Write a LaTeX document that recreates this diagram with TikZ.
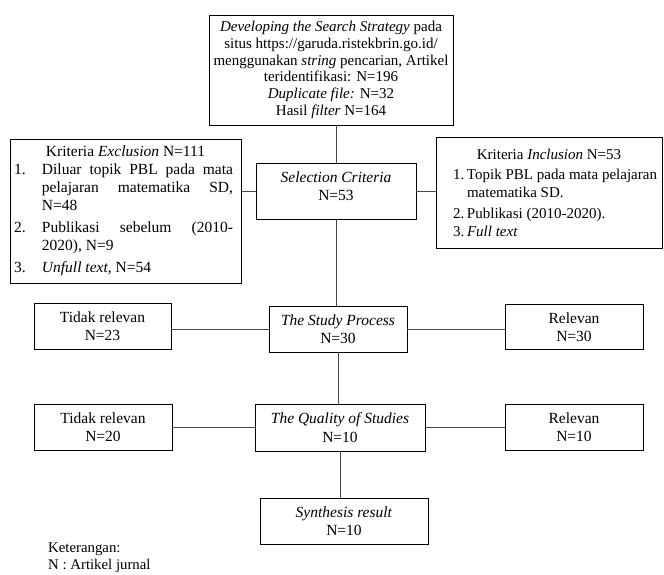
\documentclass[tikz,border=0pt]{standalone}
\usepackage{fontspec}
\setmainfont{Liberation Serif}
\begin{document}
\begin{tikzpicture}[x=1pt,y=-1pt,
  box/.style={draw=black, line width=0.9pt, inner sep=0pt, align=center,
    font=\fontsize{15.5pt}{18.5pt}\selectfont},
  listbox/.style={draw=black, line width=0.9pt, inner sep=0pt},
  txt/.style={inner sep=0pt, align=center, font=\fontsize{15.5pt}{18.5pt}\selectfont},
  conn/.style={draw=black!72, line width=1pt}]
\useasboundingbox (0,0) rectangle (664,574);

% top box
\node[box, minimum width=244pt, minimum height=110pt, inner xsep=2pt,
      font=\fontsize{15pt}{16.7pt}\selectfont] (top) at (331,70)
  {\textit{Developing the Search Strategy} pada\\
   situs https://garuda.ristekbrin.go.id/\\
   menggunakan \textit{string} pencarian, Artikel\\
   teridentifikasi: N=196\\
   \textit{Duplicate file:} N=32\\
   Hasil \textit{filter} N=164};

% exclusion box
\node[listbox, minimum width=231pt, minimum height=144pt,
      font=\fontsize{15.5pt}{18pt}\selectfont] (excl) at (125.5,211)
  {\vbox{\hsize=223pt
   \hbox to \hsize{\hss Kriteria \textit{Exclusion} N=111\hss}
   \hbox{\makebox[28pt][l]{1.}\makebox[191pt][s]{Diluar topik PBL pada mata}}
   \hbox{\kern28pt\makebox[191pt][s]{pelajaran matematika SD,}}
   \hbox{\kern28pt N=48}
   \vskip4pt
   \hbox{\makebox[28pt][l]{2.}\makebox[191pt][s]{Publikasi sebelum (2010-}}
   \hbox{\kern28pt 2020), N=9}
   \vskip4pt
   \hbox{\makebox[28pt][l]{3.}\textit{Unfull text}, N=54}}};

% inclusion box
\node[listbox, minimum width=226pt, minimum height=111pt,
      font=\fontsize{15pt}{18pt}\selectfont] (incl) at (549,192.5)
  {\vbox{\hsize=218pt
   \hbox to \hsize{\hss Kriteria \textit{Inclusion} N=53\hss}
   \vskip2pt
   \hbox{\kern13pt\makebox[14pt][l]{1.}\makebox[190pt][s]{Topik PBL pada mata pelajaran}}
   \hbox{\kern27pt matematika SD.}
   \vskip3pt
   \hbox{\kern13pt\makebox[14pt][l]{2.}Publikasi (2010-2020).}
   \hbox{\kern13pt\makebox[14pt][l]{3.}\textit{Full text}}}};

% selection criteria
\node[box, minimum width=160pt, minimum height=56pt] (sel) at (336,191) {};
\node[txt] (selt) at (336,186) {\textit{Selection Criteria}\\N=53};

% study process row
\node[box, minimum width=137pt, minimum height=46pt] (tid1) at (102.5,326) {Tidak relevan\\N=23};
\node[box, minimum width=138pt, minimum height=46pt] (study) at (338,329) {\textit{The Study Process}\\N=30};
\node[box, minimum width=138pt, minimum height=45pt] (rel1) at (574,327) {Relevan\\N=30};

% quality row
\node[box, minimum width=138pt, minimum height=46pt] (tid2) at (103,427) {Tidak relevan\\N=20};
\node[box, minimum width=170pt, minimum height=47pt] (qual) at (340,427.5) {\textit{The Quality of Studies}\\N=10};
\node[box, minimum width=138pt, minimum height=46pt] (rel2) at (574,427) {Relevan\\N=10};

% synthesis
\node[box, minimum width=168pt, minimum height=46pt] (syn) at (344,521) {\textit{Synthesis result}\\N=10};

% legend
\node[txt, anchor=west, align=left, font=\fontsize{14.8pt}{17pt}\selectfont] (ket) at (48,557.5)
  {Keterangan:\\N : Artikel jurnal};

% connectors
\draw[conn] (sel.north) -- (sel.north |- top.south);
\draw[conn] (sel.west) -- (sel.west -| excl.east);
\draw[conn] (sel.east) -- (sel.east -| incl.west);
\draw[conn] (sel.south) -- (sel.south |- study.north);
\draw[conn] (study.west) -- (study.west -| tid1.east);
\draw[conn] (study.east) -- (study.east -| rel1.west);
\draw[conn] (study.south) -- (study.south |- qual.north);
\draw[conn] (qual.west) -- (qual.west -| tid2.east);
\draw[conn] (qual.east) -- (qual.east -| rel2.west);
\draw[conn] (qual.south) -- (qual.south |- syn.north);
\end{tikzpicture}
\end{document}
